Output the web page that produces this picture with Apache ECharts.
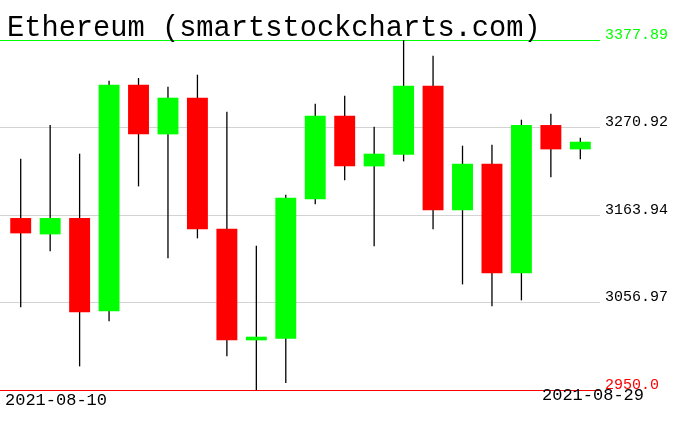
<!DOCTYPE html>
<html>
<head>
<meta charset="utf-8">
<script src="https://cdn.jsdelivr.net/npm/echarts@6/dist/echarts.min.js"></script>
<style>html,body{margin:0;padding:0;background:#fff}#c{width:676px;height:431px}</style>
</head>
<body>
<div id="c"></div>
<script>
const titleText = 'Ethereum (smartstockcharts.com)';
const dates = ['2021-08-10','2021-08-11','2021-08-12','2021-08-13','2021-08-14','2021-08-15','2021-08-16','2021-08-17','2021-08-18','2021-08-19','2021-08-20','2021-08-21','2021-08-22','2021-08-23','2021-08-24','2021-08-25','2021-08-26','2021-08-27','2021-08-28','2021-08-29'];
const opens  = [3160.24,3140.27,3160.24,3046.13,3323.24,3262.52,3307.35,3147.20,3010.68,3012.72,3183.06,3285.35,3223.40,3237.66,3322.02,3169.61,3226.66,3092.59,3273.93,3244.18];
const closes = [3141.49,3160.24,3044.91,3323.24,3262.52,3307.35,3146.38,3010.68,3015.16,3185.09,3285.35,3223.40,3238.89,3322.02,3169.61,3226.66,3092.59,3273.93,3244.18,3253.55];
const lows   = [3051.02,3119.49,2978.89,3033.91,3198.95,3110.93,3135.38,2991.12,2950.00,2958.52,3176.95,3206.29,3125.60,3229.51,3146.38,3079.14,3052.25,3059.58,3209.95,3231.96];
const highs  = [3232.77,3273.93,3238.89,3328.13,3331.39,3320.80,3335.47,3290.23,3126.41,3188.76,3300.01,3309.79,3271.89,3377.89,3358.69,3248.67,3249.89,3280.45,3287.79,3258.45];
const yTicks = [2950.0, 3056.97, 3163.94, 3270.92, 3377.89];
const yTickLabels = ['2950.0','3056.97','3163.94','3270.92','3377.89'];

const UP = '#00ff00', DOWN = '#ff0000', GRID = '#d3d3d3';
const MONO = '"Liberation Mono", "DejaVu Sans Mono", monospace';

const data = dates.map((d, i) => [i, opens[i], closes[i], lows[i], highs[i]]);
const tickColor = (i) => i === 0 ? DOWN : (i === yTicks.length - 1 ? UP : GRID);
const labelColor = (i) => i === 0 ? DOWN : (i === yTicks.length - 1 ? UP : '#000');

const chart = echarts.init(document.getElementById('c'), null, {renderer: 'canvas'});
chart.setOption({
  animation: false,
  backgroundColor: '#fff',
  title: {
    text: titleText, left: 2, top: 9,
    textStyle: {fontFamily: MONO, fontSize: 28.7, fontWeight: 'normal', color: '#000'}
  },
  grid: {left: 0, right: 76, top: 40, bottom: 41},
  xAxis: {type: 'value', min: -0.703, max: 19.668, show: false},
  yAxis: {type: 'value', min: yTicks[0], max: yTicks[yTicks.length - 1], show: false},
  series: [{
    type: 'custom',
    clip: false,
    data: data,
    renderItem: function (params, api) {
      const x = api.value(0), o = api.value(1), c = api.value(2), l = api.value(3), h = api.value(4);
      const pH = api.coord([x, h]), pL = api.coord([x, l]);
      const pO = api.coord([x, o]), pC = api.coord([x, c]);
      const w = api.size([1, 0])[0] * 0.71;
      const top = Math.min(pO[1], pC[1]);
      const hgt = Math.max(Math.abs(pO[1] - pC[1]), 1);
      return {
        type: 'group',
        children: [
          {type: 'line', shape: {x1: pH[0], y1: pH[1], x2: pL[0], y2: pL[1]}, style: {stroke: '#000', lineWidth: 1.3}},
          {type: 'rect', shape: {x: pO[0] - w / 2, y: top, width: w, height: hgt}, style: {fill: c >= o ? UP : DOWN}}
        ]
      };
    },
    markLine: {
      silent: true,
      symbol: 'none',
      animation: false,
      data: yTicks.map((v, i) => ({
        yAxis: v,
        lineStyle: {color: tickColor(i), width: 1, type: 'solid'},
        label: {
          show: true, position: 'end', distance: 5,
          formatter: yTickLabels[i],
          color: labelColor(i), fontFamily: MONO, fontSize: 15,
          offset: [0, -5]
        }
      })),
      z: 1
    },
    z: 5
  }],
  graphic: [
    {type: 'text', x: 5, y: 400, style: {text: dates[0], font: '17px ' + MONO, fill: '#000', verticalAlign: 'middle', align: 'left'}, z: 10},
    {type: 'text', x: 542, y: 395, style: {text: dates[dates.length - 1], font: '17px ' + MONO, fill: '#000', verticalAlign: 'middle', align: 'left'}, z: 10}
  ]
});
</script>
</body>
</html>
